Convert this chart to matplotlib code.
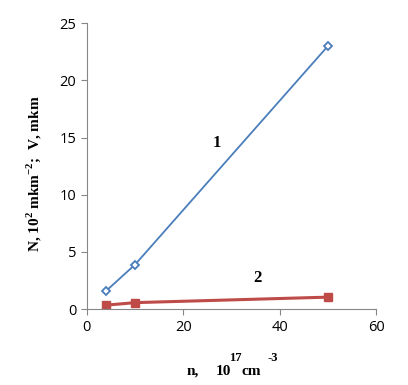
import matplotlib
matplotlib.use("Agg")
import matplotlib.pyplot as plt

# data
n_vals = [4, 10, 50]
curve1 = [1.6, 3.9, 23.0]
curve2 = [0.35, 0.57, 1.05]
x_ticks = [0, 20, 40, 60]
y_ticks = [0, 5, 10, 15, 20, 25]

plt.rcParams['mathtext.fontset'] = 'custom'
plt.rcParams['mathtext.rm'] = 'Liberation Serif:bold'
plt.rcParams['mathtext.bf'] = 'Liberation Serif:bold'

fig = plt.figure(figsize=(4.08, 3.85), dpi=100)
ax = fig.add_axes([0.213, 0.197, 0.709, 0.743])

ax.plot(n_vals, curve1, color='#4a7ebb', lw=1.3, marker='D', ms=4.5,
        mfc='white', mec='#4a7ebb', mew=1.3)
ax.plot(n_vals, curve2, color='#be4b48', lw=2.2, marker='s', ms=6,
        mfc='#be4b48', mec='#be4b48')

ax.set_xlim(0, 60)
ax.set_ylim(0, 25)
ax.set_xticks(x_ticks)
ax.set_yticks(y_ticks)
for s in ['top', 'right']:
    ax.spines[s].set_visible(False)
for s in ['left', 'bottom']:
    ax.spines[s].set_color('#868686')
    ax.spines[s].set_linewidth(0.8)
ax.tick_params(colors='#868686', length=4, width=0.8, labelcolor='black',
               labelsize=10.5)
for lab in ax.get_xticklabels() + ax.get_yticklabels():
    lab.set_family('Open Sans')

serif = dict(family='Liberation Serif', weight='bold', color='black')
ax.text(27, 14.5, '1', fontsize=12, ha='center', va='center', **serif)
ax.text(35.3, 2.7, '2', fontsize=12, ha='center', va='center', **serif)

# y label
fig.text(0.085, 0.548, r'N, 10$^{2}$ mkm$^{-2}$;  V, mkm', rotation=90,
         fontsize=11, ha='center', va='center', **serif)

# x label assembled in pieces like the original
fig.text(187 / 408, 1 - 375 / 385, 'n,', fontsize=11, ha='left', va='baseline', **serif)
fig.text(216 / 408, 1 - 375 / 385, '10', fontsize=11, ha='left', va='baseline', **serif)
fig.text(229 / 408, 1 - 361 / 385, '17', fontsize=9, ha='left', va='baseline', **serif)
fig.text(242 / 408, 1 - 375 / 385, 'cm', fontsize=11, ha='left', va='baseline', **serif)
fig.text(267 / 408, 1 - 361 / 385, '-3', fontsize=9, ha='left', va='baseline', **serif)

fig.savefig('out.png', dpi=100)
